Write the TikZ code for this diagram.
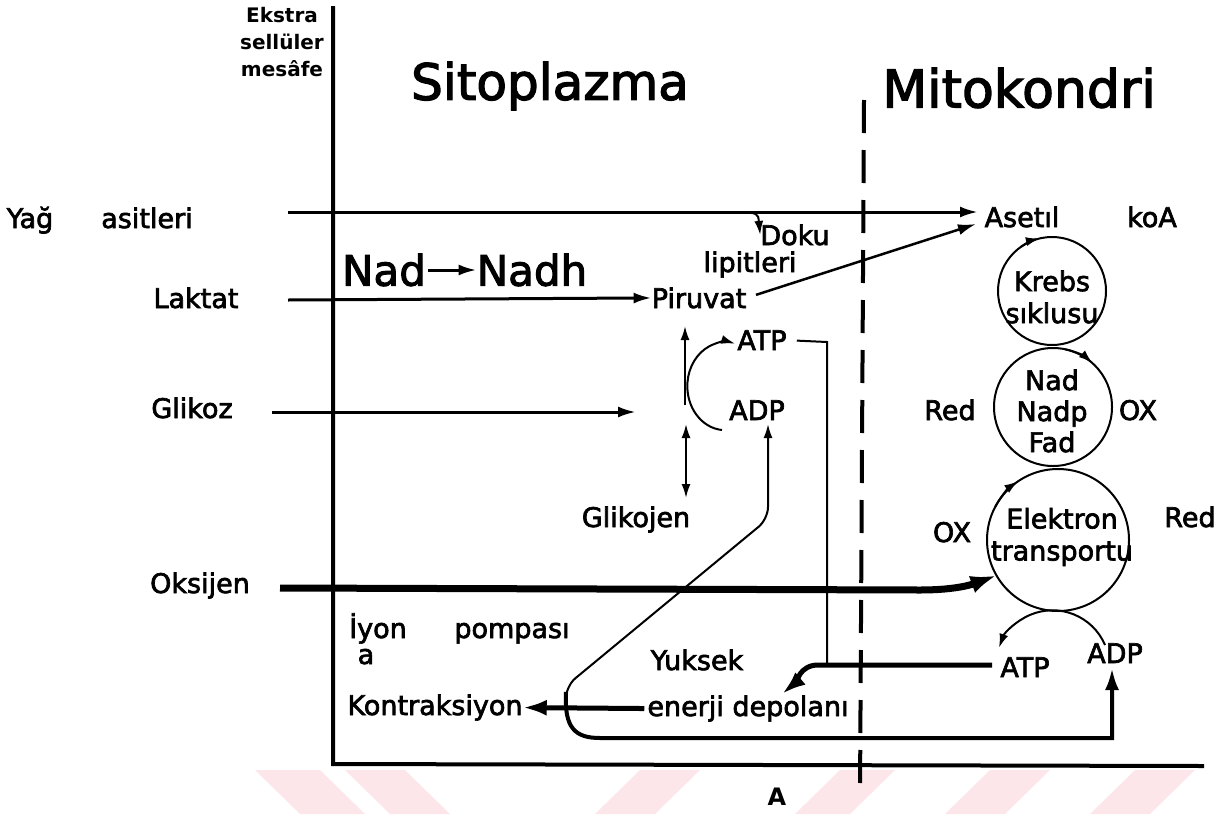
\documentclass[tikz,border=0pt]{standalone}
\usepackage{fontspec}
\setmainfont{DejaVu Sans}
\newfontfamily\lblfont{DejaVu Sans}[FakeBold=2.5]
\usetikzlibrary{arrows.meta}
\definecolor{wm}{HTML}{FDE6E9}

\begin{document}
\begin{tikzpicture}[x=1pt, y=-1pt, >=Latex,
  lab/.style={inner sep=0pt, anchor=base, font=\lblfont\fontsize{27}{33}\selectfont},
  txt/.style={inner sep=0pt, align=center, font=\lblfont\fontsize{27}{32}\selectfont},
  big/.style={inner sep=0pt, font=\lblfont\fontsize{50}{54}\selectfont},
  hd/.style={inner sep=0pt, align=center, font=\bfseries\fontsize{20}{27}\selectfont},
  cyc/.style={draw, circle, line width=2pt, inner sep=0pt, outer sep=0pt},
  fl/.style={line width=3pt, -{Latex[length=18pt,width=11pt]}},
  tl/.style={line width=2pt, -{Latex[length=14pt,width=9pt]}},
  hv/.style={line width=5pt, -{Latex[length=24pt,width=16pt]}},
  wall/.style={line width=4pt},
  memb/.style={line width=4pt, dash pattern=on 33pt off 17pt}]
\useasboundingbox (0,0) rectangle (1225,814);
% faint stripes along the bottom edge
\fill[wm] (255,770) -- (320,770) -- (365,814) -- (300,814) -- cycle;
\fill[wm] (345,770) -- (405,770) -- (450,814) -- (390,814) -- cycle;
\fill[wm] (640,770) -- (700,770) -- (655,814) -- (595,814) -- cycle;
\fill[wm] (840,770) -- (895,770) -- (850,814) -- (795,814) -- cycle;
\fill[wm] (990,770) -- (1050,770) -- (1005,814) -- (945,814) -- cycle;
\fill[wm] (1135,770) -- (1195,770) -- (1150,814) -- (1090,814) -- cycle;
% cell wall and membrane
\draw[wall] (333,6) -- (333,764) -- (1204,766);
\draw[memb] (864,100) -- (860,795);
% headings
\node[hd] (ekstra) at (282,42) {Ekstra\\sellüler\\mesâfe};
\node[big] (sito) at (550,86) {Sitoplazma};
\node[big, font=\lblfont\fontsize{52}{56}\selectfont] (mito) at (1019,88) {Mitokondri};
% substrates
\node[lab] (yag) at (30,228) {Yağ};
\node[lab] (asit) at (147,228) {asitleri};
\node[lab] (laktat) at (196,308) {Laktat};
\node[lab] (glikoz) at (192,418) {Glikoz};
\node[lab] (oksijen) at (200,593) {Oksijen};
\coordinate (yag0) at (288,212);
\coordinate (lak0) at (288,300);
\coordinate (gli0) at (272,412);
\coordinate (gli1) at (636,412);
\coordinate (oks0) at (280,588);
% cytoplasm
\node[lab] (piruvat) at (699,308) {Piruvat};
\node[lab] (doku) at (795,245) {Doku};
\node[lab] (lipit) at (750,272) {lipitleri};
\node[big, font=\lblfont\fontsize{42}{46}\selectfont] (nad) at (384,270) {Nad};
\node[big, font=\lblfont\fontsize{42}{46}\selectfont] (nadh) at (532,270) {Nadh};
\node[lab] (atp) at (762,350) {ATP};
\node[lab] (adp) at (757,420) {ADP};
\node[lab] (glikojen) at (636,527) {Glikojen};
\node[lab] (iyon) at (378,638) {İyon};
\node[lab] (pompa) at (512,638) {pompası};
\node[lab] (a) at (366,664) {a};
\node[lab] (kontr) at (435,715) {Kontraksiyon};
\node[lab] (yuksek) at (697,670) {Yuksek};
\node[lab] (depo) at (748,716) {enerji depolanı};
% mitochondrion
\node[lab] (asetil) at (1022,227) {Asetıl};
\node[lab] (koa) at (1152,227) {koA};
\node[cyc, minimum size=108pt] (krebs) at (1052,291) {};
\node[cyc, minimum size=118pt] (nadc) at (1053,407) {};
\node[cyc, minimum size=142pt] (elek) at (1058,540) {};
\node[txt] at (1052,297) {Krebs\\sıklusu};
\node[txt, font=\lblfont\fontsize{27}{31}\selectfont] at (1052,411) {Nad\\Nadp\\Fad};
\node[txt] at (1062,537) {Elektron\\transportu};
\node[lab] (red1) at (950,420) {Red};
\node[lab] (ox1) at (1138,420) {OX};
\node[lab] (ox2) at (952,542) {OX};
\node[lab] (red2) at (1190,527) {Red};
\node[lab] (atp2) at (1025,677) {ATP};
\node[lab] (adp2) at (1115,663) {ADP};
\node[hd, font=\bfseries\fontsize{24}{28}\selectfont] (fig) at (777,797) {A};
% flows into the cell
\draw[fl] (yag0) -- (978,212);
\draw[tl] (738,212) .. controls (758,213) .. (doku.west);
\draw[fl] (lak0) -- (piruvat.west);
\draw[fl] (gli0) -- (gli1);
\draw[fl, shorten <=2pt] (nad) -- (nadh);
\draw[line width=2.5pt, -{Latex[length=18pt,width=11pt]}, shorten <=10pt] (piruvat.east) -- (976,224);
\draw[line width=7pt, -{Latex[length=26pt,width=18pt]}] (oks0) -- (920,590) to[out=0,in=200] (elek.210);
% glycolysis and glycogen
\draw[tl] (685,405) -- (685,326);
\draw[line width=2pt, {Latex[length=14pt,width=9pt]}-{Latex[length=14pt,width=9pt]}] (686,424) -- (686,498);
\draw[tl] (722,430) arc[start angle=265, end angle=75, x radius=38pt, y radius=44pt];
% ATP use
\draw[line width=2pt, shorten <=10pt] (atp.east) -- (827,342) -- (827,665);
\draw[hv] (992,665) -- (818,665) to[out=180,in=40] (782,694);
\draw[hv, shorten <=3pt] (depo.west) -- (kontr.east);
\draw[line width=4pt, -{Latex[length=22pt,width=14pt]}] (566,692) .. controls (564,728) and (575,738) .. (600,738) -- (1112,738) -- (1112,668);
\draw[tl, rounded corners=12pt] (566,702) -- (566,686) -- (768,519) -- (768,424);
% cycle arrows
\draw[tl] (krebs.125) arc[start angle=125, end angle=103, radius=54pt];
\draw[tl] (nadc.78) arc[start angle=78, end angle=48, radius=59pt];
\draw[tl] (elek.152) arc[start angle=152, end angle=124, radius=71pt];
\draw[tl] (1105,645) arc[start angle=23, end angle=160, radius=57pt];
\end{tikzpicture}
\end{document}
